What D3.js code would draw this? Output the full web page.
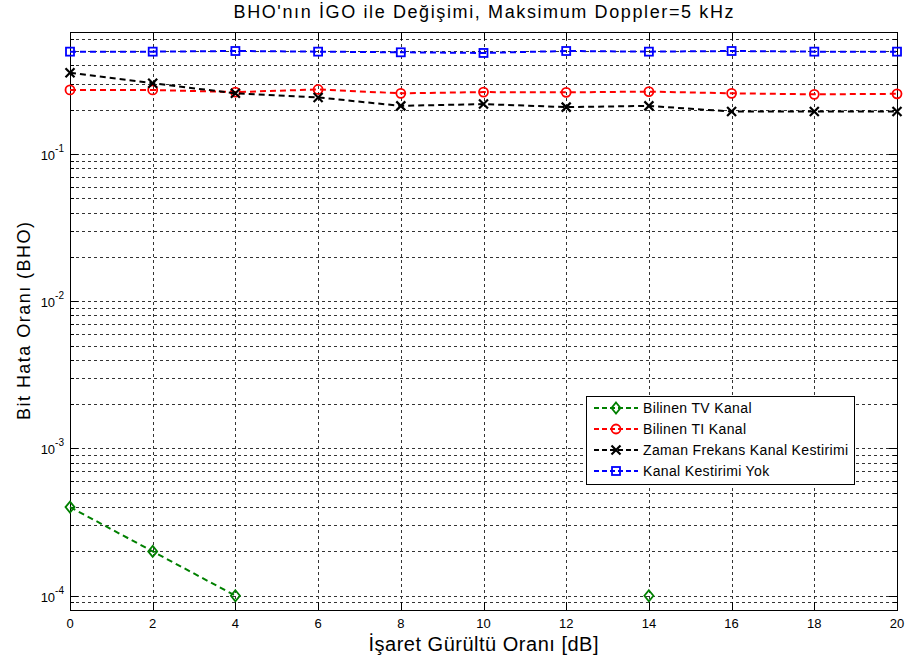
<!DOCTYPE html>
<html lang="tr">
<head>
<meta charset="utf-8">
<title>BHO</title>
<script src="https://cdn.jsdelivr.net/npm/d3@7/dist/d3.min.js"></script>
<style>
  body { margin: 0; background: #fff; }
  svg { display: block; font-family: "Liberation Sans", Arial, sans-serif; }
</style>
</head>
<body>
<div id="chart"></div>
<script>
// data
var snr = [0, 2, 4, 6, 8, 10, 12, 14, 16, 18, 20];
var tvKanal = [4e-4, 2e-4, 1e-4, null, null, null, null, 1e-4, null, null, null];
var tiKanal = [0.272, 0.272, 0.263, 0.274, 0.258, 0.263, 0.262, 0.265, 0.258, 0.254, 0.256];
var zamanFrekans = [0.356, 0.302, 0.258, 0.242, 0.212, 0.218, 0.208, 0.212, 0.194, 0.194, 0.194];
var kestirimYok = [0.495, 0.495, 0.5, 0.495, 0.49, 0.485, 0.5, 0.495, 0.5, 0.495, 0.495];
var xTicks = [0, 2, 4, 6, 8, 10, 12, 14, 16, 18, 20];
var yDecades = [-4, -3, -2, -1];

var series = [
  {name: "Bilinen TV Kanal", values: tvKanal, color: "#008000", marker: "diamond"},
  {name: "Bilinen TI Kanal", values: tiKanal, color: "#ff0000", marker: "circle"},
  {name: "Zaman Frekans Kanal Kestirimi", values: zamanFrekans, color: "#000000", marker: "x"},
  {name: "Kanal Kestirimi Yok", values: kestirimYok, color: "#0000ff", marker: "square"}
];

var W = 905, H = 662;
var margin = {top: 32, right: 8, bottom: 52, left: 70};
var width = W - margin.left - margin.right,
    height = H - margin.top - margin.bottom;

var svg = d3.select("#chart").append("svg")
  .attr("width", W).attr("height", H);

var g = svg.append("g")
  .attr("transform", "translate(" + margin.left + "," + margin.top + ")");

var x = d3.scaleLinear().domain([0, 20]).range([0, width]);
var y = d3.scaleLog().domain([8e-5, 0.673]).range([height, 0]);

// minor log values
var minor = [];
for (var e = -5; e <= 0; e++) {
  for (var k = 1; k <= 9; k++) {
    var v = k * Math.pow(10, e);
    if (v >= y.domain()[0] && v <= y.domain()[1]) minor.push({v: v, major: k === 1});
  }
}

// grid
var grid = g.append("g").attr("stroke", "#333").attr("stroke-width", 1)
  .attr("stroke-dasharray", "3,3");
grid.selectAll(".gy").data(minor).enter().append("line")
  .attr("x1", 0).attr("x2", width)
  .attr("y1", function(d) { return Math.round(y(d.v)) + 0.5; })
  .attr("y2", function(d) { return Math.round(y(d.v)) + 0.5; });
grid.selectAll(".gx").data(xTicks.slice(1, -1)).enter().append("line")
  .attr("y1", 0).attr("y2", height)
  .attr("x1", function(d) { return Math.round(x(d)) + 0.5; })
  .attr("x2", function(d) { return Math.round(x(d)) + 0.5; });

// ticks inside the box
var ticks = g.append("g").attr("stroke", "#000").attr("stroke-width", 1);
xTicks.forEach(function(t) {
  var px = Math.round(x(t)) + 0.5;
  ticks.append("line").attr("x1", px).attr("x2", px).attr("y1", height).attr("y2", height - 8);
  ticks.append("line").attr("x1", px).attr("x2", px).attr("y1", 0).attr("y2", 8);
});
minor.forEach(function(d) {
  var py = Math.round(y(d.v)) + 0.5, len = d.major ? 8 : 4;
  ticks.append("line").attr("x1", 0).attr("x2", len).attr("y1", py).attr("y2", py);
  ticks.append("line").attr("x1", width).attr("x2", width - len).attr("y1", py).attr("y2", py);
});

// box
g.append("rect").attr("x", 0.5).attr("y", 0.5).attr("width", width).attr("height", height)
  .attr("fill", "none").attr("stroke", "#000").attr("stroke-width", 1);

// x tick labels
g.selectAll(".xl").data(xTicks).enter().append("text")
  .attr("x", function(d) { return x(d); })
  .attr("y", height + 18)
  .attr("text-anchor", "middle")
  .attr("font-size", 13).attr("fill", "#000")
  .text(function(d) { return d; });

// y tick labels 10^n
var yl = g.selectAll(".yl").data(yDecades).enter().append("text")
  .attr("x", -6)
  .attr("y", function(d) { return y(Math.pow(10, d)) + 6; })
  .attr("text-anchor", "end")
  .attr("font-size", 13).attr("fill", "#000");
yl.append("tspan").text("10");
yl.append("tspan").attr("dy", -8).attr("font-size", 10).text(function(d) { return d; });

// lines & markers
var line = d3.line()
  .defined(function(d) { return d.v != null; })
  .x(function(d) { return x(d.x); })
  .y(function(d) { return y(d.v); });

function drawMarker(sel, type, color) {
  var s = 4.5;
  if (type === "diamond") {
    sel.append("path").attr("d", "M0," + (-s - 1) + "L" + s + ",0L0," + (s + 1) + "L" + (-s) + ",0Z")
      .attr("fill", "none").attr("stroke", color).attr("stroke-width", 1.8);
  } else if (type === "circle") {
    sel.append("circle").attr("r", s).attr("fill", "none").attr("stroke", color).attr("stroke-width", 1.8);
  } else if (type === "square") {
    sel.append("rect").attr("x", -s + 0.5).attr("y", -s + 0.5).attr("width", 2 * s - 1).attr("height", 2 * s - 1)
      .attr("fill", "none").attr("stroke", color).attr("stroke-width", 1.8);
  } else {
    sel.append("path").attr("d", "M" + (-s) + "," + (-s) + "L" + s + "," + s + "M" + (-s) + "," + s + "L" + s + "," + (-s))
      .attr("stroke", color).attr("stroke-width", 2.2);
  }
}

var plot = g.append("g");
series.forEach(function(s) {
  var pts = snr.map(function(v, i) { return {x: v, v: s.values[i]}; });
  plot.append("path").datum(pts)
    .attr("d", line)
    .attr("fill", "none").attr("stroke", s.color).attr("stroke-width", 2)
    .attr("stroke-dasharray", "6,4");
  pts.filter(function(p) { return p.v != null; }).forEach(function(p) {
    var m = plot.append("g").attr("transform", "translate(" + x(p.x) + "," + y(p.v) + ")");
    drawMarker(m, s.marker, s.color);
  });
});

// legend
var lg = svg.append("g").attr("transform", "translate(586,396)");
lg.append("rect").attr("x", 0.5).attr("y", 0.5).attr("width", 268).attr("height", 88)
  .attr("fill", "#fff").attr("stroke", "#000").attr("stroke-width", 1);
series.forEach(function(s, i) {
  var ry = 12 + i * 21;
  var row = lg.append("g").attr("transform", "translate(0," + ry + ")");
  row.append("line").attr("x1", 8).attr("x2", 52).attr("y1", 0).attr("y2", 0)
    .attr("stroke", s.color).attr("stroke-width", 2).attr("stroke-dasharray", "5,3");
  drawMarker(row.append("g").attr("transform", "translate(30,0)"), s.marker, s.color);
  row.append("text").attr("x", 57).attr("y", 5)
    .attr("font-size", 14).attr("letter-spacing", 0.35).attr("fill", "#000").text(s.name);
});

// titles
svg.append("text").attr("x", margin.left + width / 2).attr("y", 18)
  .attr("text-anchor", "middle").attr("font-size", 18).attr("fill", "#000")
  .attr("textLength", 500).attr("lengthAdjust", "spacing")
  .text("BHO'nın İGO ile Değişimi, Maksimum Doppler=5 kHz");
svg.append("text").attr("x", margin.left + width / 2).attr("y", 651)
  .attr("text-anchor", "middle").attr("font-size", 20).attr("fill", "#000")
  .attr("textLength", 230).attr("lengthAdjust", "spacing")
  .text("İşaret Gürültü Oranı [dB]");
svg.append("text")
  .attr("transform", "translate(30," + (margin.top + height / 2) + ") rotate(-90)")
  .attr("text-anchor", "middle").attr("font-size", 18).attr("fill", "#000")
  .attr("textLength", 198).attr("lengthAdjust", "spacing")
  .text("Bit Hata Oranı (BHO)");
</script>
</body>
</html>
